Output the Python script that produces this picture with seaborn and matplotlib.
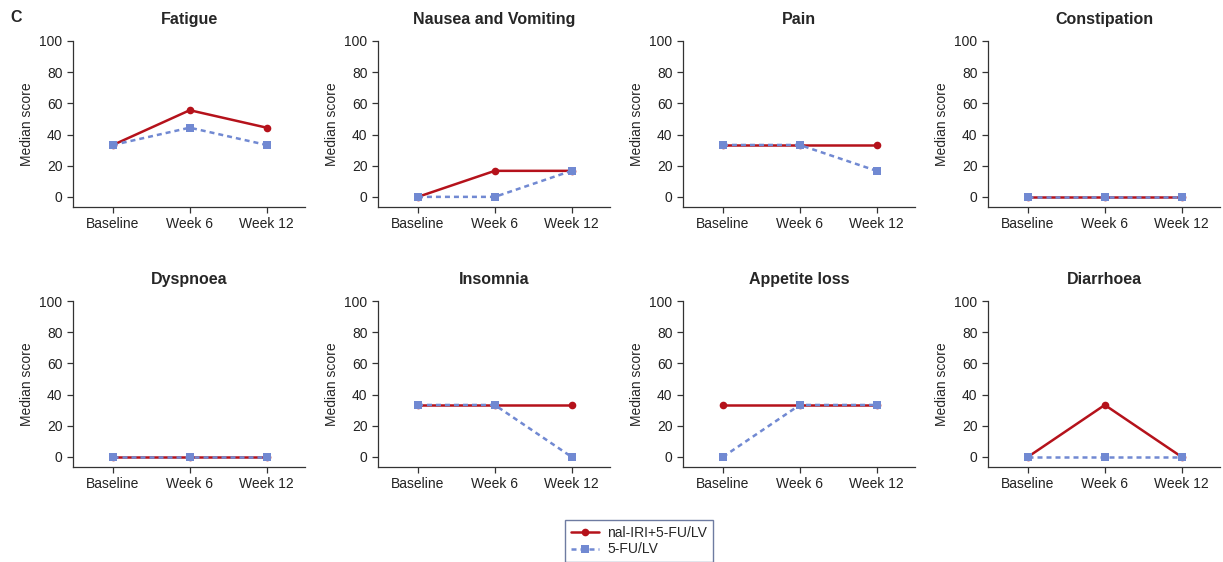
import numpy as np
import pandas as pd
import matplotlib
matplotlib.use("Agg")
import matplotlib.pyplot as plt
import seaborn as sns
from matplotlib.lines import Line2D

sns.set_style("ticks")
plt.rcParams["font.family"] = ["Liberation Sans", "DejaVu Sans"]

# ---------------------------------------------------------
# Data (median scores)
# ---------------------------------------------------------
timepoints = ["Baseline", "Week 6", "Week 12"]
symptoms = ["Fatigue", "Nausea and Vomiting", "Pain", "Constipation",
            "Dyspnoea", "Insomnia", "Appetite loss", "Diarrhoea"]

nal_iri = [
    [33.3, 55.6, 44.4],
    [0.0, 16.7, 16.7],
    [33.3, 33.3, 33.3],
    [0.0, 0.0, 0.0],
    [0.0, 0.0, 0.0],
    [33.3, 33.3, 33.3],
    [33.3, 33.3, 33.3],
    [0.0, 33.3, 0.0],
]
fu_lv = [
    [33.3, 44.4, 33.3],
    [0.0, 0.0, 16.7],
    [33.3, 33.3, 16.7],
    [0.0, 0.0, 0.0],
    [0.0, 0.0, 0.0],
    [33.3, 33.3, 0.0],
    [0.0, 33.3, 33.3],
    [0.0, 0.0, 0.0],
]
arm_names = ["nal-IRI+5-FU/LV", "5-FU/LV"]
RED = "#b5121b"
BLUE = "#7189d2"

rows = []
for i, s in enumerate(symptoms):
    for j, t in enumerate(timepoints):
        rows.append((s, arm_names[0], j, nal_iri[i][j]))
        rows.append((s, arm_names[1], j, fu_lv[i][j]))
df = pd.DataFrame(rows, columns=["symptom", "arm", "time", "score"])

# ---------------------------------------------------------
# Figure
# ---------------------------------------------------------
fig = plt.figure(figsize=(12.23, 5.62), dpi=100)
W, H = 1223, 562
col_left = [73, 378, 683, 988]
row_top = [41, 301]
row_bottom = [207, 467]
ax_w = 232

for k, s in enumerate(symptoms):
    r, c = divmod(k, 4)
    ax = fig.add_axes([col_left[c] / W, 1 - row_bottom[r] / H,
                       ax_w / W, (row_bottom[r] - row_top[r]) / H])
    sub = df[df["symptom"] == s]
    sns.lineplot(data=sub[sub["arm"] == arm_names[0]], x="time", y="score",
                 color=RED, marker="o", markersize=5.5, markeredgewidth=0,
                 linewidth=1.8, ax=ax, legend=False)
    sns.lineplot(data=sub[sub["arm"] == arm_names[1]], x="time", y="score",
                 color=BLUE, marker="s", markersize=5.5, markeredgewidth=0,
                 linewidth=1.8, linestyle=(0, (2, 1.6)), ax=ax, legend=False)
    ax.set_xlim(-0.52, 2.5)
    ax.set_ylim(-6.5, 100)
    ax.set_xticks(range(3))
    ax.set_xticklabels(timepoints)
    ax.set_yticks(np.arange(0, 101, 20))
    ax.set_xlabel("")
    ax.set_ylabel("Median score", fontsize=10)
    ax.set_title(s, fontsize=11.5, fontweight="bold", pad=12)
    ax.tick_params(labelsize=10, length=4, width=0.9, colors="#333333",
                   labelcolor="#222222")
    for side in ["left", "bottom"]:
        ax.spines[side].set_color("#333333")
        ax.spines[side].set_linewidth(0.9)
    ax.spines["left"].set_bounds(0, 100)
    sns.despine(ax=ax)
    ax.spines["left"].set_bounds(-6.5, 100)

fig.text(10 / W, 1 - 17 / H, "C", fontsize=11.5, fontweight="bold",
         va="center", ha="left")

handles = [
    Line2D([], [], color=RED, marker="o", markersize=5.5, markeredgewidth=0,
           linewidth=1.8),
    Line2D([], [], color=BLUE, marker="s", markersize=5.5, markeredgewidth=0,
           linewidth=1.8, linestyle=(0, (2, 1.6))),
]
leg = fig.legend(handles, arm_names, loc="center",
                 bbox_to_anchor=(639 / W, 1 - 541 / H), fontsize=10,
                 frameon=True, fancybox=False, handlelength=2.0,
                 borderpad=0.4, labelspacing=0.2, handletextpad=0.6)
leg.get_frame().set_edgecolor("#4a5a8a")
leg.get_frame().set_linewidth(1.0)

plt.savefig("out.png", dpi=100)
plt.close()
